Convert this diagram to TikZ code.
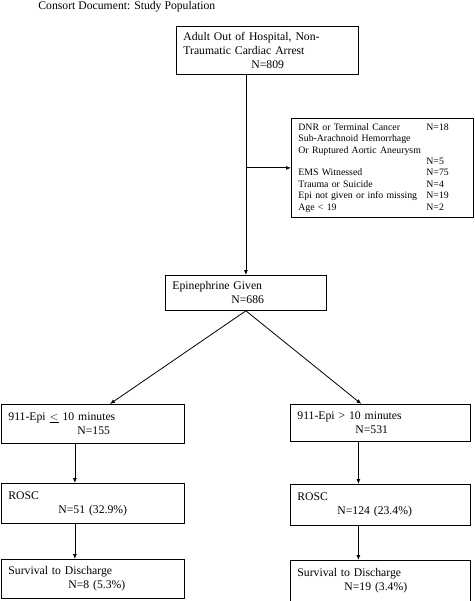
\documentclass[tikz,border=0pt]{standalone}
\usepackage{fontspec}
\setmainfont{Liberation Serif}
\usepackage{tikz}
\usetikzlibrary{positioning,%
  calc,%
  arrows.meta
}

\begin{document}
\begin{tikzpicture}
                    [
                        x=1pt, y=-1pt,
                        box/.style={draw, thick, rectangle, anchor=north west, align=left,
                            inner xsep=7pt, font=\fontsize{11.7}{14}\selectfont},
                        liste/.style={font=\fontsize{9.8}{11.4}\selectfont},
                        every path/.style={thick},
                        pfeil/.style={-{Latex[length=5pt,width=4pt]}}
                    ]
                    
                    % Rahmen
                    \useasboundingbox (0,0) rectangle (474,601);
                    
                    \node[anchor=base west, inner sep=0pt, font=\fontsize{11.7}{14}\selectfont] (titel) at (38,9.5) {Consort Document: Study Population};
                    
                    \node[box, text width=168pt, minimum height=48pt] (arrest) at (176,26)
                        {Adult Out of Hospital, Non-\\Traumatic Cardiac Arrest\\\hspace*{68pt}N=809};
                    \node[box, liste, text width=168pt, minimum height=99pt] (excl) at (291,118)
                        {\makebox[128pt][l]{DNR or Terminal Cancer}N=18\\
                         Sub-Arachnoid Hemorrhage\\
                         Or Ruptured Aortic Aneurysm\\
                         \makebox[128pt][l]{}N=5\\
                         \makebox[128pt][l]{EMS Witnessed}N=75\\
                         \makebox[128pt][l]{Trauma or Suicide}N=4\\
                         \makebox[128pt][l]{Epi not given or info missing}N=19\\
                         \makebox[128pt][l]{Age < 19}N=2};
                    \node[box, text width=147pt, minimum height=35pt] (epi) at (165,275)
                        {Epinephrine Given\\\hspace*{59pt}N=686};
                    
                    \node[box, text width=169pt, minimum height=39pt] (early) at (1,404)
                        {911-Epi $\underline{<}$ 10 minutes\\\hspace*{69pt}N=155};
                    \node[box, text width=166pt, minimum height=37pt] (late) at (290,404)
                        {911-Epi > 10 minutes\\\hspace*{58pt}N=531};
                    
                    \node[box, text width=169pt, minimum height=40pt] (roscA) at (1,483)
                        {ROSC\\\hspace*{50pt}N=51 (32.9\%)};
                    \node[box, text width=166pt, minimum height=41pt] (roscB) at (290,484)
                        {ROSC\\\hspace*{40pt}N=124 (23.4\%)};
                    
                    \node[box, text width=169pt, minimum height=39pt] (survA) at (1,559)
                        {Survival to Discharge\\\hspace*{60pt}N=8 (5.3\%)};
                    \node[box, text width=166pt, minimum height=41pt] (survB) at (290,560)
                        {Survival to Discharge\\\hspace*{47pt}N=19 (3.4\%)};
                    
                    \draw[pfeil] (epi.north |- arrest.south) -- (epi.north);
                    \draw[pfeil] (epi.north |- excl.west) -- (excl.west);
                    
                    \draw[pfeil] (epi.south) -- ($(early.north)+(17,0)$);
                    \draw[pfeil] (epi.south) -- ($(late.north)+(-19,0)$);
                    
                    \draw[pfeil] ($(early.south)+(-18,0)$) -- ($(roscA.north)+(-18,0)$);
                    \draw[pfeil] ($(roscA.south)+(-18,0)$) -- ($(survA.north)+(-18,0)$);
                    \draw[pfeil] ($(late.south)+(-22,0)$) -- ($(roscB.north)+(-22,0)$);
                    \draw[pfeil] ($(roscB.south)+(-22,0)$) -- ($(survB.north)+(-22,0)$);
                \end{tikzpicture}
\end{document}
